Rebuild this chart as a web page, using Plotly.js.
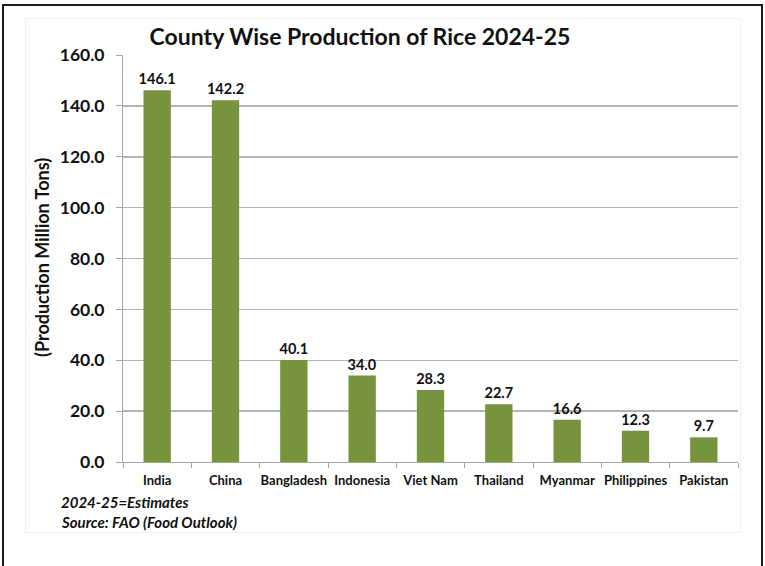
<!DOCTYPE html>
<html>
<head>
<meta charset="utf-8">
<script src="https://cdn.plot.ly/plotly-3.0.1.min.js"></script>
<style>
html,body{margin:0;padding:0;background:#fff;overflow:hidden;}
#wrap{position:relative;width:765px;height:566px;}
#chart{position:absolute;left:0;top:0;width:765px;height:566px;}
#outer{position:absolute;left:2px;top:4px;width:757px;height:600px;border:2px solid #1a1a1a;pointer-events:none;}
#inner{position:absolute;left:25px;top:18px;width:714px;height:513px;border:1px solid #efefef;pointer-events:none;}
</style>
</head>
<body>
<div id="wrap">
<div id="chart"></div>
<div id="inner"></div>
<div id="outer"></div>
</div>
<script>
const countries = ["India","China","Bangladesh","Indonesia","Viet Nam","Thailand","Myanmar","Philippines","Pakistan"];
const production = [146.1,142.2,40.1,34.0,28.3,22.7,16.6,12.3,9.7];
const yTicks = [0,20,40,60,80,100,120,140,160];
const titleText = "County Wise Production of Rice 2024-25";
const yTitle = "(Production Million Tons)";
const notes = ["2024-25=Estimates","Source: FAO (Food Outlook)"];

const FONT = "Lato, 'Open Sans', sans-serif";

const trace = {
  type: "bar",
  x: countries,
  y: production,
  marker: {color: "#77933C"},
  width: 0.4,
  text: production.map(v => v.toFixed(1)),
  textposition: "outside",
  constraintext: "none",
  textfont: {family: FONT, size: 14.5, color: "#111", weight: 700},
  cliponaxis: false,
  hoverinfo: "x+y"
};

const layout = {
  width: 765, height: 566,
  margin: {l: 123, r: 27, t: 55, b: 104},
  paper_bgcolor: "rgba(0,0,0,0)",
  plot_bgcolor: "rgba(0,0,0,0)",
  showlegend: false,
  font: {family: FONT, color: "#111"},
  title: {
    text: "<b>" + titleText + "</b>",
    font: {family: FONT, size: 23, color: "#111"},
    x: 360 / 765, xanchor: "center", xref: "container",
    y: 0.934, yanchor: "middle", yref: "container"
  },
  xaxis: {
    type: "category",
    tickson: "boundaries",
    tickangle: 0,
    ticks: "outside", ticklen: 5, tickcolor: "#a6a6a6",
    showline: true, linecolor: "#a6a6a6", linewidth: 1,
    showgrid: false,
    tickfont: {family: FONT, size: 13, color: "#111", weight: 700},
    ticklabelstandoff: 6
  },
  yaxis: {
    range: [0, 160],
    tickvals: yTicks,
    ticktext: yTicks.map(v => v.toFixed(1)),
    ticks: "outside", ticklen: 6, tickcolor: "#a6a6a6",
    showline: true, linecolor: "#a6a6a6", linewidth: 1,
    showgrid: true, gridcolor: "#b3b3b3", gridwidth: 1.5,
    zeroline: false,
    tickfont: {family: FONT, size: 17.5, color: "#111", weight: 700},
    ticklabelstandoff: 8
  },
  annotations: [
    {
      text: "<b>" + yTitle + "</b>",
      textangle: -90,
      xref: "paper", yref: "paper",
      x: (42 - 123) / 615, y: (462 - 258) / 407,
      xanchor: "center", yanchor: "middle",
      showarrow: false,
      font: {family: FONT, size: 18, color: "#111"}
    },
    {
      text: "<b><i>" + notes[0] + "</i></b>",
      xref: "paper", yref: "paper",
      x: (59 - 123) / 615, y: (462 - 502) / 407,
      xanchor: "left", yanchor: "middle",
      showarrow: false,
      font: {family: FONT, size: 15, color: "#111"}
    },
    {
      text: "<b><i>" + notes[1] + "</i></b>",
      xref: "paper", yref: "paper",
      x: (59 - 123) / 615, y: (462 - 522) / 407,
      xanchor: "left", yanchor: "middle",
      showarrow: false,
      font: {family: FONT, size: 15, color: "#111"}
    }
  ]
};

Plotly.newPlot("chart", [trace], layout, {displayModeBar: false, staticPlot: true});
</script>
</body>
</html>
